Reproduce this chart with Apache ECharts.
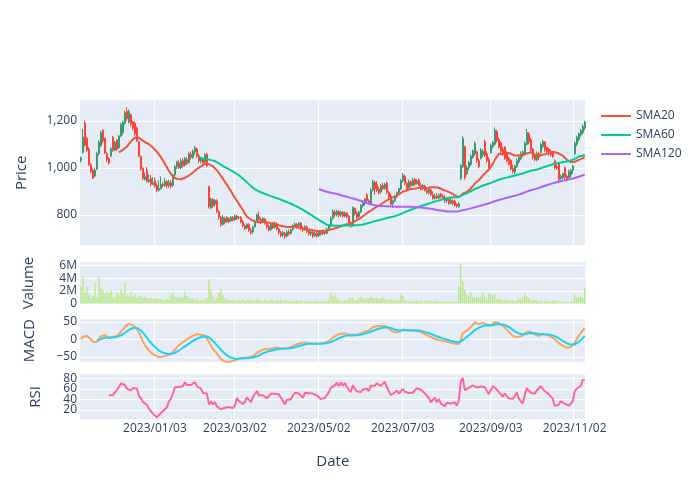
<!DOCTYPE html>
<html><head><meta charset="utf-8">
<script src="https://cdn.jsdelivr.net/npm/echarts/dist/echarts.min.js"></script>
<style>html,body{margin:0;padding:0;background:#fff}#c{width:700px;height:500px}</style>
</head><body><div id="c"></div>
<script>
// ---- data ----
const startDate = '2022-11-08';
const endDate = '2023-11-09';
const holidays = ['2022-11-24','2022-12-26','2023-01-02','2023-01-16','2023-02-20','2023-04-07','2023-05-29','2023-06-19','2023-07-04','2023-09-04'];

const opens = [
1030,1065,1190,1125,1080,1012,990,965,995,1060,
1095,1160,1125,1060,1040,1050,1130,1075,1118,1085,
1135,1150,1190,1240,1195,1225,1195,1190,1170,1110,
1048,998,952,990,942,955,930,945,925,905,
912,930,925,942,925,938,925,970,1005,1020,
1000,1030,1012,1035,1022,1058,1045,1068,1080,1052,
1028,1040,1025,1058,920,830,865,845,860,815,
790,760,785,770,785,775,788,780,795,788,
790,770,755,745,760,735,728,750,775,795,
782,772,782,765,752,738,760,748,762,740,
725,715,722,710,728,722,738,752,760,752,
765,745,738,750,732,720,726,712,722,712,
726,720,730,722,740,752,785,812,800,815,
800,812,795,808,795,765,755,828,808,792,
812,838,850,885,860,850,905,938,930,910,
898,925,912,935,895,880,848,860,878,895,
910,945,965,935,915,940,925,952,935,948,
925,912,922,905,895,905,885,872,880,872,
888,878,872,860,865,850,860,858,845,836,
955,1005,1090,975,1000,1015,1045,1060,1068,1030,
1040,1055,1112,1060,1035,1065,1090,1100,1155,1120,
1108,1080,1088,1065,1040,1032,998,982,1005,1025,
1040,1055,1060,1100,1145,1120,1080,1050,1035,1060,
1065,1090,1110,1085,1080,1070,1068,1030,1005,1018,
955,958,1000,965,958,970,990,1060,1100,1120,
1140,1150,1170];
const closes = [
1042,1130,1095,1075,1015,985,957,990,1060,1110,
1150,1115,1065,1035,1020,1082,1075,1108,1080,1135,
1185,1195,1235,1210,1240,1185,1170,1145,1115,1050,
995,955,962,942,950,930,938,922,905,912,
930,925,942,925,938,922,970,1005,1025,1000,
1030,1010,1040,1020,1060,1045,1070,1085,1050,1030,
1040,1020,1055,1008,835,868,840,862,815,790,
758,790,770,788,772,790,778,795,785,790,
770,755,742,760,735,725,748,775,800,780,
770,785,765,750,735,760,745,765,740,725,
712,725,708,728,720,738,755,762,748,765,
742,735,750,730,720,728,712,722,710,728,
720,732,722,740,755,785,815,800,815,798,
812,795,808,792,760,752,830,805,790,812,
840,855,868,860,848,905,940,912,905,895,
925,912,930,895,875,845,860,878,895,912,
945,968,935,912,940,925,948,930,945,925,
910,925,905,895,908,885,870,880,872,885,
878,872,860,868,848,862,848,842,838,848,
1010,1125,958,1000,1022,1050,1072,1105,1030,1005,
1075,1070,1052,1030,1005,1095,1108,1160,1115,1088,
1070,1058,1040,1030,1015,995,985,1008,1030,1045,
1060,1068,1105,1150,1110,1075,1045,1035,1062,1045,
1100,1112,1075,1068,1060,1055,1048,1000,1000,950,
965,975,960,948,985,990,1008,1105,1130,1145,
1160,1175,1195];
const highs = [
1048,1165,1200,1132,1088,1020,998,1000,1068,1118,
1158,1165,1130,1068,1045,1088,1136,1114,1122,1140,
1192,1200,1242,1258,1248,1230,1200,1198,1176,1115,
1052,1002,980,1003,972,970,960,960,935,946,
964,940,957,948,950,948,975,1012,1030,1032,
1040,1042,1046,1045,1068,1070,1078,1092,1085,1060,
1048,1045,1062,1064,925,874,870,868,866,820,
796,800,792,795,790,796,795,802,800,795,
795,778,760,765,765,745,754,780,806,814,
788,790,788,770,758,765,770,772,768,746,
732,732,728,734,738,742,760,768,766,770,
770,752,756,755,738,735,732,730,728,734,
735,738,736,746,760,794,823,822,822,820,
816,815,815,812,800,772,837,832,815,818,
846,860,872,893,868,914,950,945,943,920,
932,936,936,943,902,890,866,884,900,914,
952,978,971,940,950,948,957,957,952,955,
936,932,928,912,914,910,900,890,893,892,
893,886,886,874,870,872,866,865,851,854,
1016,1136,1095,1010,1030,1058,1078,1112,1072,1040,
1084,1080,1120,1070,1045,1104,1114,1172,1162,1130,
1112,1090,1092,1070,1046,1036,1014,1014,1040,1050,
1070,1074,1112,1165,1152,1127,1084,1060,1070,1068,
1108,1120,1114,1092,1085,1078,1072,1036,1015,1022,
972,980,1006,972,992,996,1014,1112,1136,1152,
1165,1185,1200];
const lows = [
1024,1060,1092,1068,1008,978,952,960,990,1052,
1088,1105,1058,1025,1014,1045,1068,1070,1072,1080,
1130,1140,1182,1200,1188,1176,1160,1138,1110,1045,
988,948,946,938,936,922,926,916,896,900,
908,918,920,914,915,912,920,965,995,995,
995,1002,1005,1012,1018,1035,1038,1055,1042,1020,
1018,1012,1018,1002,828,824,830,835,808,780,
750,755,760,765,765,770,772,775,778,780,
765,748,736,738,728,716,720,745,770,775,
762,765,758,742,730,734,740,742,735,718,
705,706,698,705,712,716,733,745,742,746,
735,728,732,724,712,710,702,706,704,706,
712,714,715,718,735,748,780,792,794,790,
792,788,790,785,752,745,750,798,782,786,
808,832,840,852,844,845,900,886,898,886,
890,905,907,888,872,838,830,855,872,888,
905,938,925,907,912,918,920,925,928,922,
904,905,900,888,886,879,865,865,866,868,
872,866,852,850,844,845,842,836,830,830,
948,998,950,970,990,1008,1038,1050,1020,998,
1035,1045,1046,1022,998,1060,1082,1095,1108,1082,
1062,1052,1034,1022,1010,990,975,972,1000,1018,
1032,1045,1055,1095,1100,1065,1035,1028,1028,1032,
1060,1082,1068,1062,1052,1048,1042,994,992,944,
948,952,950,942,955,960,975,1055,1092,1112,
1132,1142,1160];
// volume in millions
const volumes = [
2.7,4.1,1.7,2.6,1.4,0.9,1.2,3.3,1.0,4.2,
2.5,2.2,1.6,1.9,1.6,2.2,1.1,0.9,1.6,1.4,
2.2,1.6,3.4,1.4,1.1,1.9,1.1,1.4,0.9,1.1,
1.2,0.9,1.1,0.9,0.8,0.9,0.7,0.8,0.9,0.7,
0.8,0.6,0.7,0.8,0.6,1.4,1.7,1.1,1.0,1.1,
0.9,1.0,1.9,1.2,0.9,0.8,0.9,0.6,0.8,0.5,
0.6,0.4,0.7,0.9,3.8,2.2,1.1,0.6,0.9,1.7,
2.4,1.4,0.9,0.7,0.6,0.5,0.6,0.4,0.5,0.6,
0.5,0.7,0.4,0.6,0.5,0.7,0.4,0.5,0.8,0.6,
0.5,0.4,0.6,0.5,0.4,0.7,0.5,0.4,0.6,0.5,
0.7,0.4,0.6,0.5,0.4,0.5,0.3,0.4,0.6,0.4,
0.5,0.3,0.4,0.5,0.3,0.4,0.3,0.5,0.4,0.3,
0.4,0.3,0.5,0.4,0.6,1.7,1.1,1.4,0.9,0.6,
0.5,0.4,0.6,0.5,0.9,0.8,0.9,0.5,0.6,0.9,
1.1,0.8,0.7,0.9,0.8,1.1,0.9,0.8,0.9,0.7,
0.8,1.0,0.7,0.6,0.6,0.7,0.6,0.6,0.7,0.6,
1.4,1.2,0.6,0.5,0.4,0.5,0.4,0.4,0.5,0.4,
0.5,0.3,0.4,0.6,0.4,0.5,0.3,0.4,0.5,0.4,
0.3,0.4,0.3,0.4,0.3,0.4,0.3,0.4,0.3,2.7,
6.2,3.5,2.2,1.4,1.1,1.7,1.1,0.9,1.1,0.9,
1.0,1.7,1.1,0.7,1.7,1.4,1.1,1.4,0.7,0.9,
0.7,0.6,0.6,0.5,0.5,0.5,0.6,0.4,0.6,0.8,
0.6,0.9,1.6,1.1,0.9,0.6,0.5,0.6,0.5,0.4,
0.5,0.3,0.4,0.5,0.3,0.4,0.5,0.6,0.3,0.4,
0.3,0.3,0.4,0.3,0.2,0.3,0.4,1.4,1.0,1.0,
1.2,0.9,2.5];

const xTickAt = ['2023/01/03','2023/03/02','2023/05/02','2023/07/03','2023/09/05','2023/11/02'];
const xTickLabels = ['2023/01/03','2023/03/02','2023/05/02','2023/07/03','2023/09/03','2023/11/02'];
const priceTicks = [800, 1000, 1200];
const volumeTicks = [0, 2, 4, 6];
const macdTicks = [-50, 0, 50];
const rsiTicks = [20, 40, 60, 80];

// ---- helpers ----
function tradingDays() {
  const out = [];
  const d = new Date(startDate + 'T00:00:00Z');
  const end = new Date(endDate + 'T00:00:00Z');
  while (d <= end) {
    const wd = d.getUTCDay();
    const iso = d.toISOString().slice(0, 10);
    if (wd !== 0 && wd !== 6 && holidays.indexOf(iso) < 0) out.push(iso.replace(/-/g, '/'));
    d.setUTCDate(d.getUTCDate() + 1);
  }
  return out;
}
function sma(a, n) {
  return a.map((_, i) => {
    if (i < n - 1) return '-';
    let s = 0; for (let j = i - n + 1; j <= i; j++) s += a[j];
    return +(s / n).toFixed(2);
  });
}
function ema(a, n) {
  const k = 2 / (n + 1), out = [];
  a.forEach((v, i) => out.push(i === 0 ? v : v * k + out[i - 1] * (1 - k)));
  return out;
}
function rsi(a, n) {
  const out = a.map(() => '-');
  for (let i = n; i < a.length; i++) {
    let g = 0, l = 0;
    for (let j = i - n + 1; j <= i; j++) { const d = a[j] - a[j - 1]; if (d > 0) g += d; else l -= d; }
    out[i] = l === 0 ? 100 : +(100 - 100 / (1 + g / l)).toFixed(2);
  }
  return out;
}

const dates = tradingDays();
const tickIdx = xTickAt.map(d => dates.indexOf(d));
const labelByIdx = {};
tickIdx.forEach((ix, k) => { labelByIdx[ix] = xTickLabels[k]; });

const ohlc = opens.map((o, i) => [o, closes[i], lows[i], highs[i]]);
const sma20 = sma(closes, 20), sma60 = sma(closes, 60), sma120 = sma(closes, 120);
const e12 = ema(closes, 12), e26 = ema(closes, 26);
const macd = e12.map((v, i) => +(v - e26[i]).toFixed(3));
const sigRaw = ema(macd, 9);
const signal = sigRaw.map((v, i) => i < 8 ? '-' : +v.toFixed(3));
const rsi14 = rsi(closes, 14);

const FONT = 'Open Sans';
const TXT = '#2a3f5f';
const L = 80, W = 505.7;
const grids = [
  { top: 100.3, height: 145 },
  { top: 262.3, height: 41.4 },
  { top: 319.3, height: 42.7 },
  { top: 374.3, height: 45 }
].map(g => Object.assign({ left: L, width: W, show: true, backgroundColor: '#E5ECF6', borderWidth: 0, outerBoundsMode: 'none', containLabel: false }, g));

function xAx(k) {
  const ax = {
    type: 'category', gridIndex: k, data: dates, boundaryGap: true,
    axisLine: { show: false }, axisTick: { show: false },
    axisLabel: { show: k === 3, interval: (i) => tickIdx.indexOf(i) >= 0, formatter: (v, i) => labelByIdx[i] || '',
      color: TXT, fontSize: 12, fontFamily: FONT, margin: 3, hideOverlap: false },
    splitLine: { show: k !== 1, interval: (i) => tickIdx.indexOf(i) >= 0, lineStyle: { color: '#ffffff', width: 1 } }
  };
  if (k === 3) {
    ax.name = 'Date'; ax.nameLocation = 'middle'; ax.nameGap = 35;
    ax.nameTextStyle = { color: TXT, fontSize: 15, fontFamily: FONT };
  }
  return ax;
}
function yAx(k, min, max, labelVals, tickVals, fmt, name, gap, showSplit) {
  return {
    type: 'value', gridIndex: k, min: min, max: max, position: 'left',
    name: name, nameLocation: 'middle', nameGap: gap, nameRotate: 90,
    nameTextStyle: { color: TXT, fontSize: 15, fontFamily: FONT },
    axisLine: { show: false }, axisTick: { show: false, customValues: tickVals },
    axisLabel: { customValues: labelVals, formatter: fmt, color: TXT, fontSize: 12, fontFamily: FONT, margin: 3,
      hideOverlap: false, showMinLabel: true, showMaxLabel: true },
    splitLine: { show: showSplit, lineStyle: { color: '#ffffff', width: 1 } }
  };
}
const minusFmt = v => (v < 0 ? '\u2212' + Math.abs(v) : String(v));

const chart = echarts.init(document.getElementById('c'), null, { renderer: 'canvas' });
chart.setOption({
  animation: false,
  backgroundColor: '#ffffff',
  textStyle: { fontFamily: FONT },
  grid: grids,
  legend: {
    data: ['SMA20', 'SMA60', 'SMA120'], orient: 'vertical', left: 601, top: 109, padding: 0,
    icon: 'rect', itemWidth: 30, itemHeight: 2, itemGap: 5,
    textStyle: { color: TXT, fontSize: 12, fontFamily: FONT, lineHeight: 14 }
  },
  xAxis: [xAx(0), xAx(1), xAx(2), xAx(3)],
  yAxis: [
    yAx(0, 671, 1287, priceTicks, priceTicks, v => v.toLocaleString('en-US'), 'Price', 51, true),
    yAx(1, 0, 6.5, volumeTicks, volumeTicks, v => (v === 0 ? '0' : v + 'M'), 'Valume', 44, true),
    yAx(2, -65, 57, macdTicks, macdTicks, minusFmt, 'MACD', 43, true),
    yAx(3, 2.4, 87.6, [rsiTicks[0], rsiTicks[2]], rsiTicks, v => String(v), 'RSI', 37, true),
    yAx(3, 2.4, 87.6, [rsiTicks[1], rsiTicks[3]], [rsiTicks[1], rsiTicks[3]], v => String(v), '', 37, false)
  ],
  series: [
    { name: 'Price', type: 'candlestick', xAxisIndex: 0, yAxisIndex: 0, data: ohlc, barWidth: '75%',
      itemStyle: { color: '#3D9970', color0: '#FF4136', borderColor: '#3D9970', borderColor0: '#FF4136', borderWidth: 1 } },
    { name: 'SMA20', type: 'line', xAxisIndex: 0, yAxisIndex: 0, data: sma20, showSymbol: false, symbol: 'none',
      lineStyle: { color: '#EF553B', width: 2 }, itemStyle: { color: '#EF553B' }, z: 3 },
    { name: 'SMA60', type: 'line', xAxisIndex: 0, yAxisIndex: 0, data: sma60, showSymbol: false, symbol: 'none',
      lineStyle: { color: '#00CC96', width: 2 }, itemStyle: { color: '#00CC96' }, z: 3 },
    { name: 'SMA120', type: 'line', xAxisIndex: 0, yAxisIndex: 0, data: sma120, showSymbol: false, symbol: 'none',
      lineStyle: { color: '#AB63FA', width: 2 }, itemStyle: { color: '#AB63FA' }, z: 3 },
    { name: 'Volume', type: 'bar', xAxisIndex: 1, yAxisIndex: 1, data: volumes, barWidth: '65%',
      itemStyle: { color: '#B6E880' } },
    { name: 'MACD', type: 'line', xAxisIndex: 2, yAxisIndex: 2, data: macd, showSymbol: false, symbol: 'none',
      lineStyle: { color: '#FFA15A', width: 2 } },
    { name: 'Signal', type: 'line', xAxisIndex: 2, yAxisIndex: 2, data: signal, showSymbol: false, symbol: 'none',
      lineStyle: { color: '#19D3F3', width: 2 } },
    { name: 'RSI', type: 'line', xAxisIndex: 3, yAxisIndex: 3, data: rsi14, showSymbol: false, symbol: 'none',
      lineStyle: { color: '#FF6692', width: 2 } }
  ]
});
</script>
</body></html>
